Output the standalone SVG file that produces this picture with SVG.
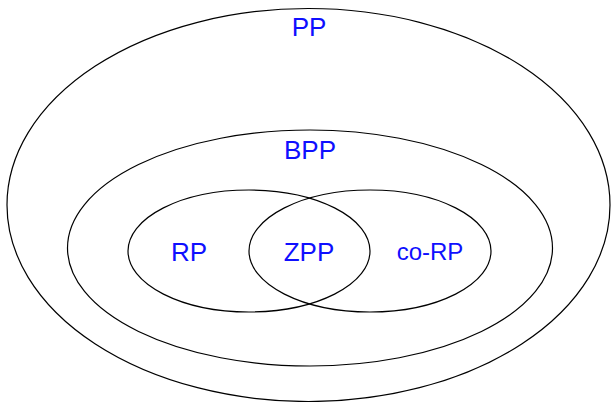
<svg xmlns="http://www.w3.org/2000/svg" width="611" height="402" viewBox="0 0 611 402">
<style>
.e{fill:none;stroke:#000;stroke-width:1.2}
.t{font-family:"Liberation Sans",Arial,sans-serif;fill:#0f0fff;text-anchor:middle;font-size:26px}
</style>
<rect width="611" height="402" fill="#fff"/>
<g id="PP"><ellipse class="e" cx="308.5" cy="205" rx="301.5" ry="196.5"/><text class="t" x="309" y="36">PP</text></g>
<g id="BPP"><ellipse class="e" cx="310" cy="248" rx="242.5" ry="118"/><text class="t" x="310" y="159">BPP</text></g>
<g id="RP"><ellipse class="e" cx="249" cy="251" rx="121" ry="61"/><text class="t" x="189" y="261">RP</text></g>
<g id="coRP"><ellipse class="e" cx="370" cy="251" rx="121" ry="61"/><text class="t" x="430" y="260" style="font-size:24px">co-RP</text></g>
<g id="ZPP"><text class="t" x="309" y="261">ZPP</text></g>
<g id="connectors"/>
</svg>
